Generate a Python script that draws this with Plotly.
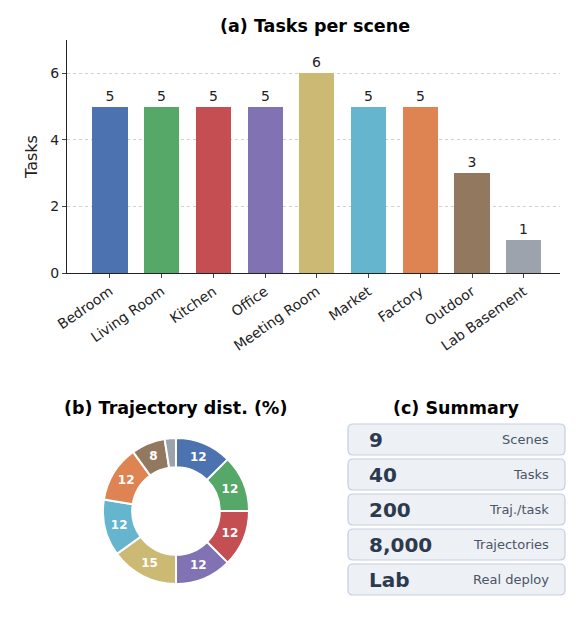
import plotly.graph_objects as go
import re

scenes = ["Bedroom","Living Room","Kitchen","Office","Meeting Room","Market","Factory","Outdoor","Lab Basement"]
tasks = [5,5,5,5,6,5,5,3,1]
colors = ["#4C72B0","#55A868","#C44E52","#8172B3","#CCB974","#64B5CD","#DD8452","#937860","#9DA3AD"]
pie_labels = ["12","12","12","12","15","12","12","8","3"]
summary_values = ["9","40","200","8,000","Lab"]
summary_labels = ["Scenes","Tasks","Traj./task","Trajectories","Real deploy"]

W, H = 583, 621
OFF = 8  # page body margin
def px(x): return (x-OFF)/W
def py(y): return 1-(y-OFF)/H

fig = go.Figure()
fig.add_trace(go.Bar(x=scenes, y=tasks, marker=dict(color=colors, line=dict(width=0)), width=0.68,
                     text=[str(t) for t in tasks], textposition="outside",
                     textfont=dict(size=14, color="#222"), cliponaxis=False, showlegend=False))
total = sum(tasks)
fig.add_trace(go.Pie(values=[t/total*100 for t in tasks], labels=scenes, text=[f"<b>{s}</b>" for s in pie_labels], textinfo="text",
                     sort=False, direction="clockwise", rotation=0, hole=0.6,
                     marker=dict(colors=colors, line=dict(color="white", width=2)),
                     textfont=dict(size=12, color="white", family="DejaVu Sans"),
                     insidetextorientation="horizontal", showlegend=False,
                     domain=dict(x=[px(176-73),px(176+73)], y=[py(511+73), py(511-73)])))

shapes=[]; ann=[]
r=5
def conv(m):
    a,b=float(m.group(1)),float(m.group(2))
    return f"{px(a):.5f},{py(b):.5f}"
for i,(v,l) in enumerate(zip(summary_values, summary_labels)):
    y0 = 424+35*i; y1 = y0+31
    x0, x1 = 348, 565
    path=(f"M {x0+r},{y0} L {x1-r},{y0} Q {x1},{y0} {x1},{y0+r} L {x1},{y1-r} Q {x1},{y1} {x1-r},{y1} "
          f"L {x0+r},{y1} Q {x0},{y1} {x0},{y1-r} L {x0},{y0+r} Q {x0},{y0} {x0+r},{y0} Z")
    path=re.sub(r"([\d.]+),([\d.]+)",conv,path)
    shapes.append(dict(type="path",path=path,xref="paper",yref="paper",fillcolor="#EDF0F5",line=dict(color="#C5CFE0",width=1.2)))
    ym=py((y0+y1)/2)
    ann.append(dict(x=px(367),y=ym,xref="paper",yref="paper",text=f"<b>{v}</b>",showarrow=False,xanchor="left",yanchor="middle",font=dict(size=20,color="#2B3A4F")))
    ann.append(dict(x=px(551),y=ym,xref="paper",yref="paper",text=l,showarrow=False,xanchor="right",yanchor="middle",font=dict(size=13,color="#4A5565")))

for x,y,t in [(315,26,"(a) Tasks per scene"),(175,408,"(b) Trajectory dist. (%)"),(456,408,"(c) Summary")]:
    ann.append(dict(x=px(x),y=py(y),xref="paper",yref="paper",text=f"<b>{t}</b>",showarrow=False,
                    xanchor="center",yanchor="middle",font=dict(size=17.5,color="black")))

fig.update_layout(width=W,height=H,margin=dict(l=0,r=0,t=0,b=0,autoexpand=False),plot_bgcolor="white",paper_bgcolor="white",
    font=dict(family="DejaVu Sans",color="#222"),shapes=shapes,annotations=ann,bargap=0,
    xaxis=dict(domain=[px(67),px(560)],range=[-0.83,8.7],tickangle=-35,tickfont=dict(size=14,color="#222"),automargin=False,
               showline=True,linecolor="#222",ticks="outside",ticklen=4,showgrid=False),
    yaxis=dict(domain=[py(273),py(40)],range=[0,7],tickvals=[0,2,4,6],tickfont=dict(size=14,color="#222"),automargin=False,
               title=dict(text="Tasks",font=dict(size=16),standoff=8),showline=True,linecolor="#222",ticks="outside",ticklen=4,
               showgrid=True,gridcolor="#d0d0d0",griddash="dot",zeroline=False))
fig.write_html("out.html")
